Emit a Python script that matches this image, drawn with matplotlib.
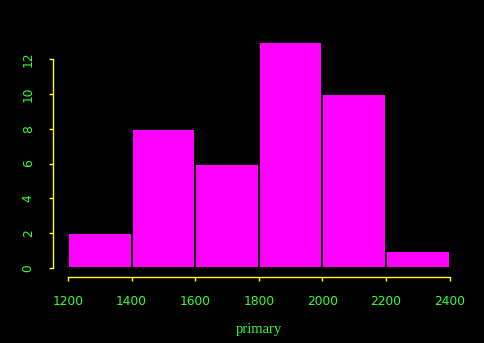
import matplotlib
matplotlib.use("Agg")
import matplotlib.pyplot as plt

bin_edges = [1200, 1400, 1600, 1800, 2000, 2200, 2400]
counts = [2, 8, 6, 13, 10, 1]
x_ticks = [1200, 1400, 1600, 1800, 2000, 2200, 2400]
y_ticks = [0, 2, 4, 6, 8, 10, 12]
x_label = "primary"

fig = plt.figure(figsize=(4.84, 3.43), dpi=100, facecolor="black")
ax = fig.add_axes([52.7/484, 66/343, (465-52.7)/484, (310.3-66)/343])
ax.set_facecolor("black")

lefts = bin_edges[:-1]
widths = [b - a for a, b in zip(bin_edges[:-1], bin_edges[1:])]
ax.bar(lefts, counts, width=widths, align="edge", color="#ff00ff",
       edgecolor="black", linewidth=1.4)

ax.set_xlim(1152, 2448)
ax.set_ylim(-0.52, 13.52)

for s in ["top", "right"]:
    ax.spines[s].set_visible(False)
for s in ["left", "bottom"]:
    ax.spines[s].set_color("#ffff00")
    ax.spines[s].set_linewidth(1.0)
ax.spines["bottom"].set_bounds(1200, 2400)
ax.spines["left"].set_bounds(0, 12)

ax.set_xticks(x_ticks)
ax.set_yticks(y_ticks)
ax.set_xticklabels([str(t) for t in x_ticks])
ax.set_yticklabels([str(t) for t in y_ticks], rotation=90, va="center")
ax.tick_params(axis="both", colors="#ffff00", labelcolor="#33ff33",
               length=3, width=1.0, labelsize=8.8)
ax.tick_params(axis="x", pad=10)
ax.tick_params(axis="y", pad=10)
for lab in ax.get_xticklabels() + ax.get_yticklabels():
    lab.set_family("DejaVu Sans")

ax.set_xlabel(x_label, color="#33ff33", family="Liberation Serif",
              fontsize=10.5, labelpad=11)

fig.savefig("out.png", dpi=100, facecolor="black")
